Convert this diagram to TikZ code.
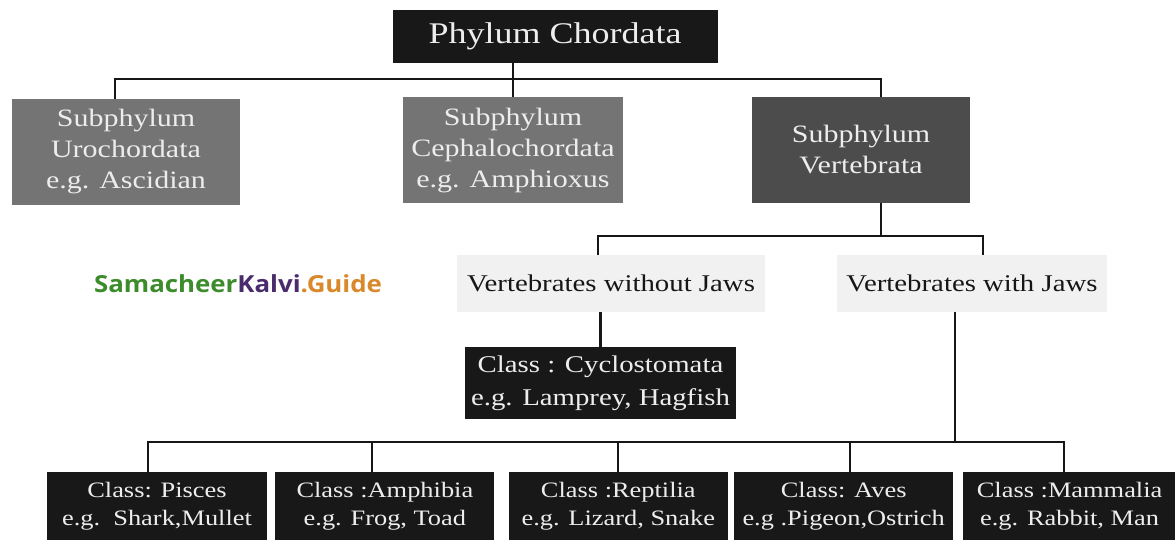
\documentclass[tikz,border=0pt]{standalone}
\usepackage{fontspec}
\setmainfont{Liberation Serif}[FakeStretch=1.2]
\newfontfamily\logofont{Open Sans}[FakeStretch=1.1]
\usepackage{xcolor}
\usetikzlibrary{positioning}

\definecolor{inkdark}{HTML}{161616}
\definecolor{boxblack}{HTML}{181818}
\definecolor{boxgrey}{HTML}{747474}
\definecolor{boxmid}{HTML}{4C4C4C}
\definecolor{labelgrey}{HTML}{F1F1F1}
\definecolor{textlight}{HTML}{EDEDED}
\definecolor{guidegreen}{HTML}{3C8C2C}
\definecolor{guidepurple}{HTML}{4A2C6E}
\definecolor{guideorange}{HTML}{D9892B}

\begin{document}
\begin{tikzpicture}[
  x=1pt, y=-1pt,
  box/.style={rectangle, inner sep=0pt, align=center, text=textlight},
  phylumbox/.style={box, fill=boxblack, minimum width=325pt, minimum height=53pt, font=\fontsize{30}{34}\selectfont},
  subbox/.style={box, minimum height=106pt, font=\fontsize{25}{31}\selectfont},
  jawbox/.style={rectangle, inner sep=0pt, fill=labelgrey, text=inkdark, minimum height=57pt, font=\fontsize{24}{28}\selectfont},
  cyclobox/.style={box, fill=boxblack, minimum width=271pt, minimum height=72pt, font=\fontsize{24}{33}\selectfont},
  classbox/.style={box, fill=boxblack, minimum width=219pt, minimum height=68pt, font=\fontsize{22}{28}\selectfont},
  line/.style={line width=2.5pt, draw=inkdark}
]
\fill[white] (0,0) rectangle (1175,540);
\useasboundingbox (0,0) rectangle (1175,540);

% top levels
\node[phylumbox] (phylum) at (555,36.5) {Phylum Chordata};
\node[subbox, fill=boxgrey, minimum width=228pt] (uro) at (126,152) {Subphylum\\Urochordata\\e.g. Ascidian};
\node[subbox, fill=boxgrey, minimum width=220pt] (cephalo) at (513,150.5) {Subphylum\\Cephalochordata\\e.g. Amphioxus};
\node[subbox, fill=boxmid, minimum width=218pt] (verte) at (861,150) {Subphylum\\Vertebrata};

\node[jawbox, minimum width=308pt] (nojaw) at (611,283.5) {Vertebrates without Jaws};
\node[jawbox, minimum width=270pt] (jaw) at (972,283.5) {Vertebrates with Jaws};
\node[font=\logofont\bfseries\fontsize{23.5}{27}\selectfont] (logo) at (238,284)
  {\color{guidegreen}Samacheer\color{guidepurple}Kalvi\color{guideorange}.Guide};

\node[cyclobox] (cyclo) at (600.5,383) {Class : Cyclostomata\\e.g. Lamprey, Hagfish};

% classes
\node[classbox, minimum width=220pt] (pisces) at (157,506) {Class: Pisces\\e.g.\ \ Shark,Mullet};
\node[classbox, right=8pt of pisces] (amphi) {Class :Amphibia\\e.g. Frog, Toad};
\node[classbox, right=14pt of amphi] (repti) {Class :Reptilia\\e.g. Lizard, Snake};
\node[classbox, right=6pt of repti] (aves) {Class: Aves\\e.g .Pigeon,Ostrich};
\node[classbox, minimum width=214pt, right=9pt of aves] (mammal) {Class :Mammalia\\e.g. Rabbit, Man};

% connectors
\coordinate (barA-l) at (115,79);
\coordinate (barA-r) at (881,79);
\draw[line] (phylum.south -| cephalo.north) -- (cephalo.north);
\draw[line] (barA-l |- uro.north) -- (barA-l) -- (barA-r) -- (barA-r |- verte.north);

\coordinate (barB-l) at (598,236);
\coordinate (barB-r) at (983,236);
\draw[line] (verte.south -| barA-r) -- (barA-r |- barB-l);
\draw[line] (barB-l |- nojaw.north) -- (barB-l) -- (barB-r) -- (barB-r |- jaw.north);

\draw[line] (cyclo.north |- nojaw.south) -- (cyclo.north);

\coordinate (barC-l) at (148,442);
\coordinate (barC-r) at (1064,442);
\coordinate (jawstem) at (955,442);
\draw[line] (jawstem |- jaw.south) -- (jawstem);
\draw[line] (barC-l |- pisces.north) -- (barC-l) -- (barC-r) -- (barC-r |- mammal.north);
\foreach \n/\x in {amphi/372, repti/618, aves/850} {
  \coordinate (drop-\n) at (\x,442);
  \draw[line] (drop-\n) -- (drop-\n |- \n.north);
}
\end{tikzpicture}
\end{document}
